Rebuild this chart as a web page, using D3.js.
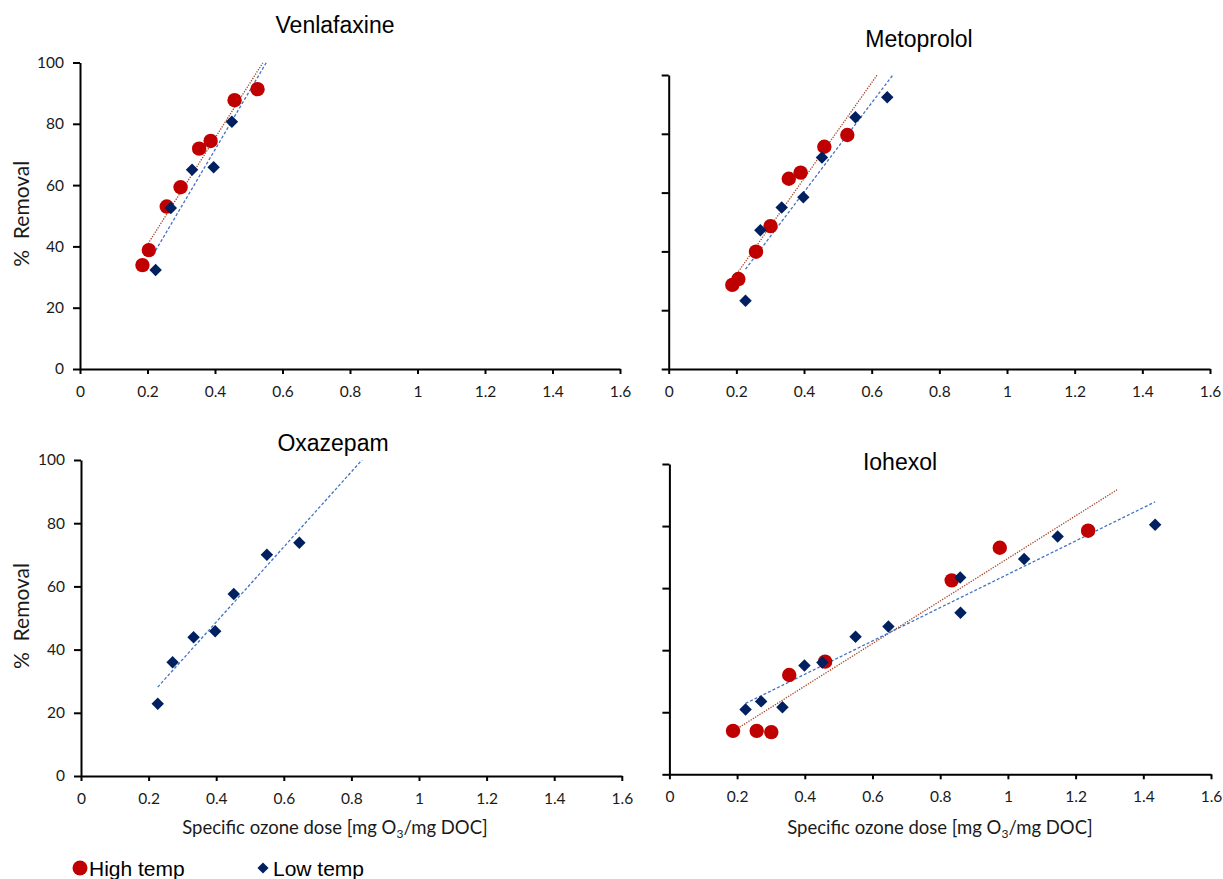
<!DOCTYPE html>
<html>
<head>
<meta charset="utf-8">
<script src="https://cdn.jsdelivr.net/npm/d3@7"></script>
<style>
  html, body { margin: 0; padding: 0; background: #fff; }
  svg { display: block; }
</style>
</head>
<body>
<svg id="chart" width="1223" height="879"></svg>
<script>
// ---------------- DATA ----------------
const compounds = ["Venlafaxine", "Metoprolol", "Oxazepam", "Iohexol"];
const seriesNames = ["High temp", "Low temp"];
const xTicks = [0, 0.2, 0.4, 0.6, 0.8, 1, 1.2, 1.4, 1.6];
const yTicks = [0, 20, 40, 60, 80, 100];

const venHighX = [0.185, 0.204, 0.257, 0.298, 0.353, 0.387, 0.458, 0.526];
const venHighY = [33.9, 38.8, 53.0, 59.3, 71.9, 74.4, 87.7, 91.3];
const venLowX  = [0.224, 0.269, 0.332, 0.396, 0.450];
const venLowY  = [32.3, 52.5, 65.0, 65.8, 80.7];

const metHighX = [0.188, 0.206, 0.258, 0.301, 0.355, 0.390, 0.460, 0.528];
const metHighY = [28.6, 30.6, 39.9, 48.6, 64.7, 66.8, 75.6, 79.6];
const metLowX  = [0.227, 0.271, 0.334, 0.398, 0.453, 0.552, 0.646];
const metLowY  = [23.2, 47.2, 54.9, 58.4, 71.9, 85.6, 92.4];

const oxaHighX = [];
const oxaHighY = [];
const oxaLowX  = [0.227, 0.271, 0.333, 0.397, 0.452, 0.550, 0.646];
const oxaLowY  = [22.9, 36.0, 43.9, 45.8, 57.6, 70.0, 73.8];

const ioHighX = [0.188, 0.258, 0.301, 0.354, 0.460, 0.834, 0.976, 1.237];
const ioHighY = [14.0, 14.0, 13.6, 32.0, 36.3, 62.5, 73.0, 78.5];
const ioLowX  = [0.225, 0.271, 0.334, 0.399, 0.452, 0.550, 0.647, 0.859, 0.860, 1.048, 1.147, 1.435];
const ioLowY  = [20.9, 23.5, 21.6, 35.1, 36.0, 44.3, 47.6, 63.4, 52.1, 69.4, 76.6, 80.4];

// linear trendline x-extent end (Excel forecast forward), per compound [high, low]
const trendEndHigh = [0.60, 0.65, null, 1.3225];
const trendEndLow  = [0.60, 0.70, 0.90, 1.435];

// ---------------- LAYOUT ----------------
const panelLayout = [
  { x0: 80,    x1: 620,   yb: 369,   yt: 62.5, showY: true,  showXTitle: false, title: [335, 33] },
  { x0: 668.7, x1: 1210,  yb: 369,   yt: 75,   showY: false, showXTitle: false, title: [919, 47] },
  { x0: 81,    x1: 621.8, yb: 776,   yt: 460,  showY: true,  showXTitle: true,  title: [333, 451], xt: 335 },
  { x0: 669.4, x1: 1211,  yb: 774.3, yt: 464,  showY: false, showXTitle: true,  title: [900, 470], xt: 940 }
];

const highX = [venHighX, metHighX, oxaHighX, ioHighX];
const highY = [venHighY, metHighY, oxaHighY, ioHighY];
const lowX  = [venLowX, metLowX, oxaLowX, ioLowX];
const lowY  = [venLowY, metLowY, oxaLowY, ioLowY];

const RED = "#C00000", NAVY = "#002060";
const RED_LINE = "#A8472A", BLUE_LINE = "#4472C4";
const TICK_FONT = "Lato, 'Open Sans', sans-serif";
const TITLE_FONT = "'Liberation Sans', Arial, sans-serif";

const svg = d3.select("#chart");

function regression(xs, ys) {
  const n = xs.length;
  const mx = d3.mean(xs), my = d3.mean(ys);
  let sxy = 0, sxx = 0;
  for (let i = 0; i < n; i++) { sxy += (xs[i]-mx)*(ys[i]-my); sxx += (xs[i]-mx)*(xs[i]-mx); }
  const b = sxy / sxx;
  return { b, a: my - b*mx };
}

const diamondPath = d3.symbol().type(d3.symbolSquare).size(78)();
const legendDiamondPath = d3.symbol().type(d3.symbolSquare).size(62)();

panelLayout.forEach((L, i) => {
  const x = d3.scaleLinear().domain([0, 1.6]).range([L.x0, L.x1]);
  const y = d3.scaleLinear().domain([0, 100]).range([L.yb, L.yt]);
  const g = svg.append("g");

  // clip
  const cid = "clip" + i;
  svg.append("clipPath").attr("id", cid).append("rect")
    .attr("x", L.x0).attr("y", L.yt).attr("width", L.x1 - L.x0).attr("height", L.yb - L.yt);

  // axes
  const yAxis = d3.axisLeft(y).tickValues(yTicks).tickSize(7).tickSizeOuter(0).tickPadding(9)
    .tickFormat(d => L.showY ? d : "");
  const xAxis = d3.axisBottom(x).tickValues(xTicks).tickSize(5).tickSizeOuter(0).tickPadding(12)
    .tickFormat(d => String(+d.toFixed(1)));

  const ya = g.append("g").attr("transform", `translate(${L.x0},0)`).call(yAxis);
  const xa = g.append("g").attr("transform", `translate(0,${L.yb})`).call(xAxis);
  [ya, xa].forEach(a => {
    a.select(".domain").attr("stroke", "#000").attr("stroke-width", 2);
    a.selectAll(".tick line").attr("stroke", "#000").attr("stroke-width", 2);
    a.selectAll(".tick text").attr("fill", "#1a1a1a").style("font-family", TICK_FONT).style("font-size", "15.5px");
  });

  // title
  g.append("text").attr("x", L.title[0]).attr("y", L.title[1]).attr("text-anchor", "middle")
    .style("font-family", TITLE_FONT).style("font-size", "23px").attr("fill", "#000")
    .text(compounds[i]);

  // y label
  if (L.showY) {
    const cy = (L.yb + L.yt) / 2 - 2;
    g.append("text").attr("transform", `translate(29,${cy}) rotate(-90)`)
      .attr("text-anchor", "middle").style("font-family", TICK_FONT).style("font-size", "21px")
      .style("white-space", "pre")
      .attr("fill", "#1a1a1a").text("%  Removal");
  }
  // x label
  if (L.showXTitle) {
    const t = g.append("text").attr("x", L.xt).attr("y", 834).attr("text-anchor", "middle")
      .style("font-family", TICK_FONT).style("font-size", "18.5px").attr("fill", "#1a1a1a");
    t.append("tspan").text("Specific ozone dose [mg O");
    t.append("tspan").attr("dy", 4).style("font-size", "12px").text("3");
    t.append("tspan").attr("dy", -4).text("/mg DOC]");
  }

  // trendlines
  const lines = g.append("g").attr("clip-path", `url(#${cid})`);
  const trend = (xs, ys, xEnd, color, dash) => {
    if (!xs.length) return;
    const r = regression(xs, ys);
    const x1 = d3.min(xs);
    const pts = [[x1, r.a + r.b*x1], [xEnd, r.a + r.b*xEnd]];
    lines.append("path").datum(pts)
      .attr("d", d3.line().x(d => x(d[0])).y(d => y(d[1])))
      .attr("fill", "none").attr("stroke", color).attr("stroke-width", 1.3)
      .attr("stroke-dasharray", dash);
  };
  trend(highX[i], highY[i], trendEndHigh[i], RED_LINE, "1.3 1.3");
  trend(lowX[i], lowY[i], trendEndLow[i], BLUE_LINE, "3 2");

  // markers
  g.append("g").selectAll("circle").data(d3.zip(highX[i], highY[i])).join("circle")
    .attr("cx", d => x(d[0])).attr("cy", d => y(d[1])).attr("r", 7.2).attr("fill", RED);
  g.append("g").selectAll("path").data(d3.zip(lowX[i], lowY[i])).join("path")
    .attr("transform", d => `translate(${x(d[0])},${y(d[1])}) rotate(45)`)
    .attr("d", diamondPath).attr("fill", NAVY);
});

// legend
const lg = svg.append("g");
lg.append("circle").attr("cx", 80).attr("cy", 868).attr("r", 7.5).attr("fill", RED);
lg.append("text").attr("x", 89).attr("y", 876).style("font-family", TITLE_FONT).style("font-size", "21px")
  .attr("fill", "#000").text(seriesNames[0]);
lg.append("path").attr("transform", "translate(263,868) rotate(45)")
  .attr("d", legendDiamondPath).attr("fill", NAVY);
lg.append("text").attr("x", 273).attr("y", 876).style("font-family", TITLE_FONT).style("font-size", "21px")
  .attr("fill", "#000").text(seriesNames[1]);
</script>
</body>
</html>
